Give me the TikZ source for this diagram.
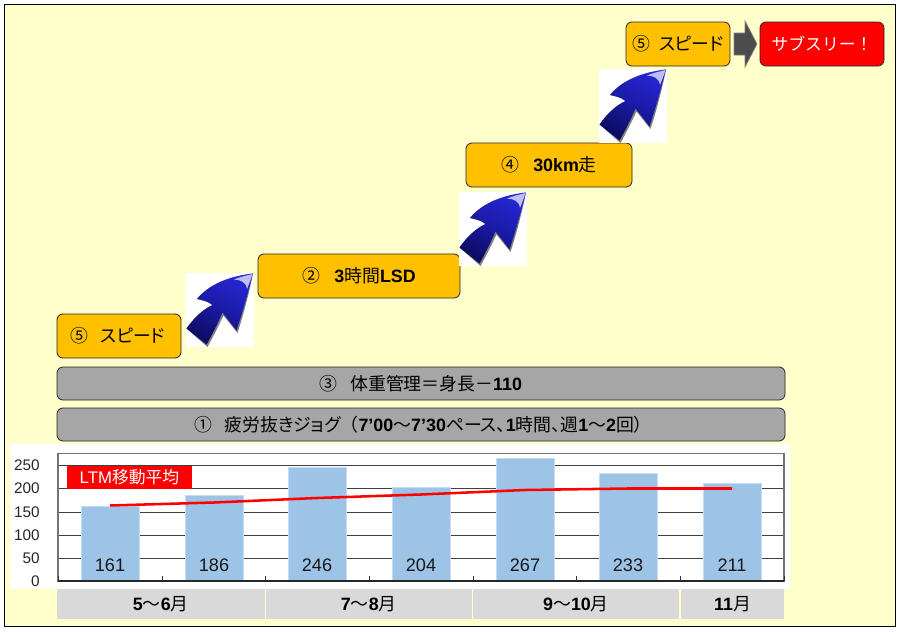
\documentclass[tikz,border=0pt]{standalone}
\usepackage{fontspec}
\setmainfont{Liberation Sans}
\newfontfamily\jp[RawFeature=+palt]{Noto Sans CJK JP}
\newfontfamily\jpfull{Noto Sans CJK JP}
\newcommand{\jt}[1]{{\jp\mdseries #1}}
\newcommand{\jf}[1]{{\jpfull\mdseries #1}}
\newcommand{\lb}[1]{{\rmfamily\bfseries #1}}
\usetikzlibrary{calc}
\definecolor{bgy}{HTML}{FFFFCC}
\definecolor{gold}{HTML}{FFC000}
\definecolor{greybar}{HTML}{A6A6A6}
\definecolor{catgrey}{HTML}{D9D9D9}
\definecolor{barblue}{HTML}{9DC3E6}
\definecolor{barrim}{HTML}{C5DCF2}
\definecolor{arrowhi}{HTML}{2626D4}
\definecolor{arrowmid}{HTML}{1A1AA4}
\definecolor{arrowlo}{HTML}{0C0C60}
\newcommand{\stepfont}{\fontsize{13.4pt}{15pt}\selectfont}
\tikzset{
  x=0.75pt,y=-0.75pt,
  goldbox/.style={draw=black!85,line width=0.6pt,rounded corners=4.5pt,fill=gold,inner sep=0pt,font=\stepfont,text=black},
  redbox/.style={goldbox,fill=red,text=white},
  greybox/.style={goldbox,fill=greybar},
  catbox/.style={fill=catgrey,inner sep=0pt,font=\stepfont,text=black},
  valbar/.style={fill=barblue,draw=barrim,line width=0.4pt},
  grid/.style={draw=black!75,line width=0.75pt},
  vallab/.style={font=\fontsize{13.6pt}{15pt}\selectfont,text=black!90,inner sep=0pt},
  axlab/.style={font=\fontsize{11.5pt}{13pt}\selectfont,text=black!85,anchor=east,inner sep=0pt},
  ma/.style={draw=red,line width=1.9pt,line join=round}
}
\newcommand{\pxbox}[7]{% style,name,x1,y1,x2,y2,text
  \path[#1] (#3,#4) rectangle (#5,#6);
  \node[inner sep=0pt,font=\stepfont,#1,draw=none,fill=none] (#2) at ({(#3+#5)/2},{(#4+#6)/2}) {#7};
}
\newcommand{\bigarrow}[2]{% x,y origin of white tile
  \begin{scope}[shift={(#1,#2)}]
    \fill[white] (0,0) rectangle (67.5,73.5);
    \path[fill=black!50] (67,0.5) .. controls (63,20) and (58,40) .. (51.5,60) -- (37.5,42.5) .. controls (33,52) and (27,64) .. (21.5,74) -- (0.5,55.5) .. controls (8,45) and (16,37) .. (26.5,32) .. controls (22,28) and (15,27) .. (11,26) .. controls (24,10) and (46,3) .. (67,0.5) -- cycle;
    \shade[bottom color=arrowlo,top color=arrowhi,middle color=arrowmid,shading angle=-25] (67,0.5) .. controls (62,20) and (57,38) .. (50.5,57.5) -- (36.5,39.5) .. controls (32,50) and (26,62) .. (20.5,71.5) -- (0.5,55.5) .. controls (8,45) and (16,37) .. (26.5,32) .. controls (22,28) and (15,27) .. (11,26) .. controls (24,10) and (46,3) .. (67,0.5) -- cycle;
    \fill[white,opacity=0.7] (66.5,1) .. controls (60,2.5) and (54,4) .. (48,6.5) .. controls (55,7) and (60,9) .. (61,16) .. controls (63,11) and (65,6) .. (66.5,1) -- cycle;
  \end{scope}
}
\begin{document}
\begin{tikzpicture}
\useasboundingbox (0,0) rectangle (901,632);
\fill[white] (0,0) rectangle (901,632);
\path[fill=bgy,draw=black,line width=0.8pt] (4.5,4.5) rectangle (895.5,626.5);

% steps
\pxbox{goldbox}{sp}{57}{314}{181}{358}{\jt{⑤\hspace{0.7em}スピード}\hspace*{2pt}}
\pxbox{goldbox}{lsd}{258}{254}{460}{298}{\jt{②\hspace{0.8em}}\lb{3}\jt{時間}\lb{LSD}}
\pxbox{goldbox}{km}{466}{143}{632}{187}{\jt{④\hspace{0.8em}}\lb{30km}\jt{走}}
\pxbox{goldbox}{sptop}{626}{22}{730}{66}{\jt{⑤\hspace{0.5em}スピード}}
\pxbox{redbox}{sub}{760}{22}{884}{66}{\jf{\fontsize{12.6pt}{15pt}\selectfont サブスリー！}}

\bigarrow{186}{273}
\bigarrow{459}{192}
\bigarrow{599}{69}

% block arrow
\path[fill=black!70,draw=black!50,line width=0.5pt] (734,33) -- (745,33) -- (745,21) -- (757,44) -- (745,67) -- (745,55) -- (734,55) -- cycle;

% bands
\pxbox{greybox}{wt}{57}{367}{785}{400}{\jt{③\hspace{0.7em}体重管理＝身長－}\lb{110}}
\pxbox{greybox}{jog}{57}{408}{785}{441}{\hspace*{3pt}\jt{①\hspace{0.7em}疲労抜きジョグ}\jf{（}\lb{7’00}\jt{～}\lb{7’30}\jt{ペース、}\lb{1}\jt{時間、週}\lb{1}\jt{～}\lb{2}\jt{回}\jf{）}}

% chart
\fill[white] (10,444) rectangle (790,589);
\foreach \gy in {465,488,512,535,558}{
  \draw[grid] (58,\gy) -- (783,\gy);
}
\foreach \gy/\lab in {465/250,488/200,512/150,535/100,558/50,581/0}{
  \node[axlab] (ax\lab) at (40,\gy+0.5) {\lab};
}
\foreach \cx/\val in {110/161,214/186,317/246,421/204,525/267,628/233,732/211}{
  \path[valbar] (\cx-29,581) rectangle (\cx+29,581-0.4615*\val);
  \node[vallab] (v\val) at (\cx,565) {\val};
}
\draw[draw=black!55,line width=0.9pt] (58,453.5) rectangle (784,581);
\draw[draw=black!85,line width=0.9pt] (58,581) -- (784,581);
\foreach \tx in {58,162,265,369,473,576,680,784}{
  \draw[draw=black!80,line width=0.5pt] (\tx,576) -- (\tx,581);
}
\node[fill=red,text=white,minimum width=125*0.75pt,minimum height=23*0.75pt,inner sep=0pt,font=\fontsize{12.6pt}{14pt}\selectfont] (ltm) at (129.5,477) {LTM{\jp 移動平均}};
\coordinate (m0) at (110,505.5);
\draw[ma] (m0) -- (214,502.5) -- (317,498) -- (421,494.5) -- (525,490) -- (628,488.5) -- (732,488.5);

% categories
\pxbox{catbox}{c1}{57}{589}{264.5}{619}{\lb{5}\jt{～}\lb{6}\jt{月}}
\pxbox{catbox}{c2}{266}{589}{471.5}{619}{\lb{7}\jt{～}\lb{8}\jt{月}}
\pxbox{catbox}{c3}{473}{589}{679}{619}{\lb{9}\jt{～}\lb{10}\jt{月}}
\pxbox{catbox}{c4}{681}{589}{784}{619}{\lb{11}\jt{月}}
\end{tikzpicture}
\end{document}
